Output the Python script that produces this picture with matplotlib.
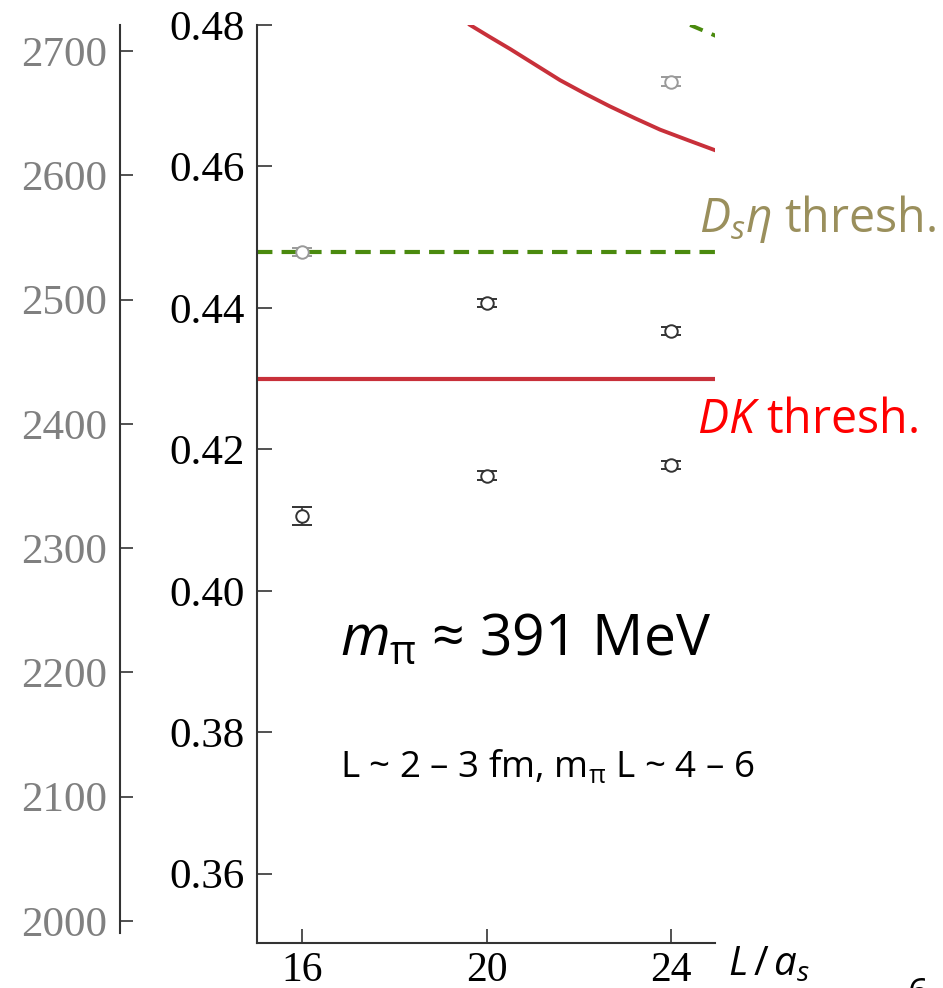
import matplotlib
matplotlib.use("Agg")
import matplotlib.pyplot as plt

# lattice volumes and energy levels (a_t E)
L_grey = [16, 24]
E_grey = [0.4479, 0.4720]
err_grey = [0.0006, 0.0006]

L_black = [16, 20, 20, 24, 24]
E_black = [0.4106, 0.4407, 0.4163, 0.4367, 0.4178]
err_black = [0.00125, 0.0006, 0.0006, 0.0006, 0.0006]

# thresholds
dk_thresh = 0.4300
dseta_thresh = 0.4479

# non-interacting DK level
curve_L = [19.64, 20.07, 20.51, 21.05, 21.59, 22.13, 22.67, 23.22, 23.76, 24.37, 24.99]
curve_E = [0.4800, 0.4783, 0.4766, 0.4744, 0.4722, 0.4703, 0.4685, 0.4668, 0.4652, 0.4637, 0.4622]
# tail of the Ds eta level in the top corner
eta_L = [24.41, 24.99]
eta_E = [0.4800, 0.4784]

main_ticks = [0.36, 0.38, 0.40, 0.42, 0.44, 0.46, 0.48]
mev_ticks = [2000, 2100, 2200, 2300, 2400, 2500, 2600, 2700]
x_ticks = [16, 20, 24]

W, H = 943, 988
plt.rcParams['font.family'] = ['Open Sans', 'DejaVu Sans']
plt.rcParams['mathtext.fontset'] = 'custom'
plt.rcParams['mathtext.rm'] = 'Open Sans'
plt.rcParams['mathtext.it'] = 'Open Sans:italic'
plt.rcParams['mathtext.bf'] = 'Open Sans:bold'

fig = plt.figure(figsize=(W / 100, H / 100), dpi=100)


def fx(px):
    return px / W


def fy(py):
    return 1 - py / H


spine_col = '#333333'
serif = 'Liberation Serif'

# left axis in MeV
axm = fig.add_axes([fx(120), fy(933), 0.0001, fy(25) - fy(933)])
axm.set_ylim(1990.3, 2720.9)
axm.set_yticks(mev_ticks)
axm.set_yticklabels([str(t) for t in mev_ticks], family=serif, fontsize=31, color='#808080')
axm.tick_params(axis='y', direction='in', length=9, width=1.2, color=spine_col, pad=9)
axm.set_xticks([])
for s in ['top', 'right', 'bottom']:
    axm.spines[s].set_visible(False)
axm.spines['left'].set_color(spine_col)
axm.spines['left'].set_linewidth(1.5)
axm.patch.set_visible(False)

# main axis
ax = fig.add_axes([fx(257), fy(943), fx(715) - fx(257), fy(25) - fy(943)])
ax.set_xlim(15.02, 24.95)
ax.set_ylim(0.3502, 0.48)
ax.patch.set_visible(False)
for s in ['top', 'right']:
    ax.spines[s].set_visible(False)
for s in ['left', 'bottom']:
    ax.spines[s].set_color(spine_col)
    ax.spines[s].set_linewidth(1.5)

ax.set_yticks(main_ticks)
ax.set_yticklabels([f'{t:.2f}' for t in main_ticks], family=serif, fontsize=31)
ax.set_xticks(x_ticks)
ax.set_xticklabels([str(t) for t in x_ticks], family=serif, fontsize=30)
ax.tick_params(axis='y', direction='in', length=11, width=1.2, color=spine_col, pad=9)
ax.tick_params(axis='x', direction='in', length=10, width=1.2, color=spine_col, pad=6)

red = '#c8303a'
green = '#4a8a0e'
ax.axhline(dk_thresh, color=red, lw=3, zorder=2)
ax.axhline(dseta_thresh, color=green, lw=3, ls=(0, (3.7, 2.2)), zorder=2)
ax.plot(curve_L, curve_E, color=red, lw=2.8, solid_joinstyle='round', zorder=2)
ax.plot(eta_L, eta_E, color=green, lw=2.8, ls=(0, (3.5, 2.5)), zorder=2)

ax.errorbar(L_black, E_black, yerr=err_black, fmt='o', ms=9, mfc='white',
            mec='#333333', mew=1.4, ecolor='#333333', elinewidth=1.2,
            capsize=7, capthick=1.2, zorder=4)
ax.errorbar(L_grey, E_grey, yerr=err_grey, fmt='o', ms=9, mfc='white',
            mec='#9a9a9a', mew=1.4, ecolor='#9a9a9a', elinewidth=1.2,
            capsize=7, capthick=1.2, zorder=4)

# annotations
fig.text(fx(699), fy(232), r'$D_s\eta$ thresh.', color='#9a8f5c', fontsize=33.5, va='baseline')
fig.text(fx(697), fy(433), r'$DK$ thresh.', color='#ff0000', fontsize=33.5, va='baseline')
fig.text(fx(340), fy(655), r'$m_{\mathrm{\pi}}$ ≈ 391 MeV', color='black', fontsize=41, va='baseline')
fig.text(fx(340), fy(777), r'L ~ 2 – 3 fm, m$_{\mathrm{\pi}}$ L ~ 4 – 6', color='black',
         fontsize=26.5, va='baseline')
fig.text(fx(728), fy(975), r'$L\,/\,a_s$', color='black', fontsize=29, va='baseline')
fig.text(fx(908), fy(977), '6', color='black', fontsize=26, va='top')

fig.savefig('out.png', dpi=100)
